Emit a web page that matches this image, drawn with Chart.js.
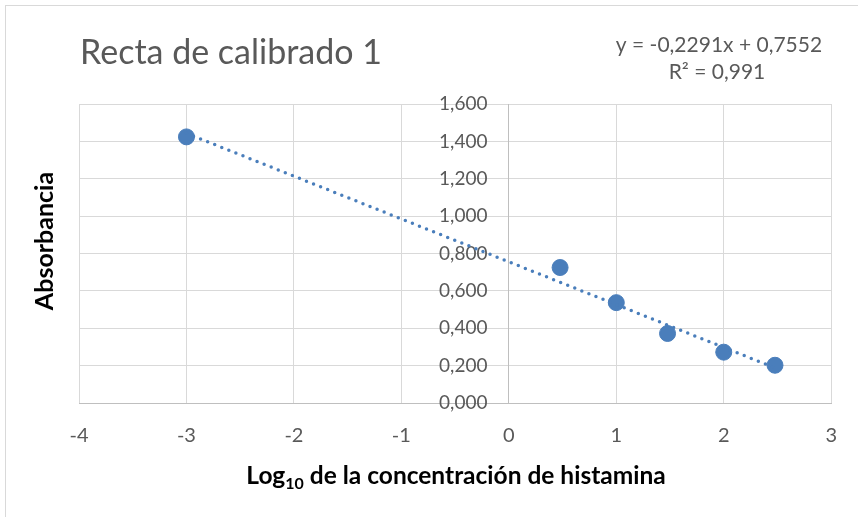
<!DOCTYPE html>
<html>
<head>
<meta charset="utf-8">
<script src="https://cdn.jsdelivr.net/npm/chart.js@4/dist/chart.umd.min.js"></script>
<style>
  html, body { margin: 0; padding: 0; background: #fff; }
  #wrap { position: relative; width: 858px; height: 517px; overflow: hidden; }
  #frame { position: absolute; left: 5px; top: 5px; width: 900px; height: 600px; border: 1px solid #d9d9d9; }
  canvas { position: absolute; left: 0; top: 0; }
</style>
</head>
<body>
<div id="wrap">
  <div id="frame"></div>
  <canvas id="chartCal" width="858" height="517"></canvas>
</div>
<script>
// log10 of histamine concentration vs absorbance
let logConc = [-3, 0.477, 1, 1.477, 2, 2.477];
let absorb = [1.424, 0.725, 0.537, 0.372, 0.272, 0.202];
// trendline ends
let trendX = [-3, 2.477];
let trendY = [1.443, 0.188];
let xTicks = [-4, -3, -2, -1, 0, 1, 2, 3];
let yTicks = [0, 0.2, 0.4, 0.6, 0.8, 1.0, 1.2, 1.4, 1.6];

const FONT = 'Lato, "Open Sans", sans-serif';
const GREY = '#595959';
const BLUE = '#4a7ebb';

// text that Chart.js can't draw itself (title, equation, subscript axis title)
const extraText = {
    id: 'extraText',
    afterDraw(chart) {
        const c = chart.ctx;
        c.save();
        c.fillStyle = GREY;
        c.textBaseline = 'alphabetic';
        c.font = '34px ' + FONT;
        c.textAlign = 'left';
        c.fillText('Recta de calibrado 1', 80, 64);

        c.font = '21px ' + FONT;
        c.textAlign = 'center';
        c.fillText('y = -0,2291x + 0,7552', 719, 52);
        c.fillText('R² = 0,991', 717, 79);

        // y title
        c.fillStyle = '#000';
        c.font = 'bold 25px ' + FONT;
        c.translate(53, 241);
        c.rotate(-Math.PI / 2);
        c.textAlign = 'center';
        c.fillText('Absorbancia', 0, 0);
        c.setTransform(1, 0, 0, 1, 0, 0);

        // x title with subscript
        const a = 'Log', sub = '10', b = ' de la concentración de histamina';
        c.font = 'bold 24.5px ' + FONT;
        const wa = c.measureText(a).width, wb = c.measureText(b).width;
        c.font = 'bold 16px ' + FONT;
        const ws = c.measureText(sub).width;
        let x = 456 - (wa + ws + wb) / 2;
        const y = 484;
        c.textAlign = 'left';
        c.font = 'bold 24.5px ' + FONT;
        c.fillText(a, x, y);
        x += wa;
        c.font = 'bold 16px ' + FONT;
        c.fillText(sub, x, y + 5);
        x += ws;
        c.font = 'bold 24.5px ' + FONT;
        c.fillText(b, x, y);
        c.restore();
    }
};

let chart1;
function drawChart() {
    const ctx = document.getElementById('chartCal').getContext('2d');
    if (chart1) chart1.destroy();
    chart1 = new Chart(ctx, {
        type: 'scatter',
        data: {
            datasets: [
                {
                    data: logConc.map((v, i) => ({ x: v, y: absorb[i] })),
                    backgroundColor: BLUE,
                    borderColor: BLUE,
                    pointRadius: 8,
                    pointHoverRadius: 8,
                    order: 1
                },
                {
                    type: 'line',
                    data: trendX.map((v, i) => ({ x: v, y: trendY[i] })),
                    borderColor: BLUE,
                    borderWidth: 3.5,
                    borderDash: [0, 7.6],
                    borderCapStyle: 'round',
                    pointRadius: 0,
                    fill: false,
                    order: 0
                }
            ]
        },
        options: {
            responsive: false,
            animation: false,
            layout: { padding: { left: 79, right: 25, top: 104, bottom: 0 } },
            plugins: { legend: { display: false }, tooltip: { enabled: false } },
            scales: {
                x: {
                    type: 'linear',
                    min: -4, max: 3,
                    afterBuildTicks: s => { s.ticks = xTicks.map(v => ({ value: v })); },
                    afterFit: s => { s.height = 114; },
                    grid: { color: '#d9d9d9', lineWidth: 1, drawTicks: false },
                    border: { color: '#bfbfbf' },
                    ticks: { color: GREY, font: { family: FONT, size: 20 }, padding: 21 }
                },
                y: {
                    type: 'linear',
                    position: { x: 0 },
                    min: 0, max: 1.6,
                    afterBuildTicks: s => { s.ticks = yTicks.map(v => ({ value: v })); },
                    grid: { color: '#d9d9d9', lineWidth: 1, drawTicks: false },
                    border: { color: '#bfbfbf' },
                    ticks: {
                        color: GREY,
                        font: { family: FONT, size: 19 },
                        // labels sit right-aligned on the axis line; trailing spaces push them off it
                        callback: v => v.toFixed(3).replace('.', ',') + '\u2003\u2009\u2009\u2009'
                    }
                }
            }
        },
        plugins: [extraText]
    });
}

window.onload = () => { drawChart(); };
</script>
</body>
</html>
